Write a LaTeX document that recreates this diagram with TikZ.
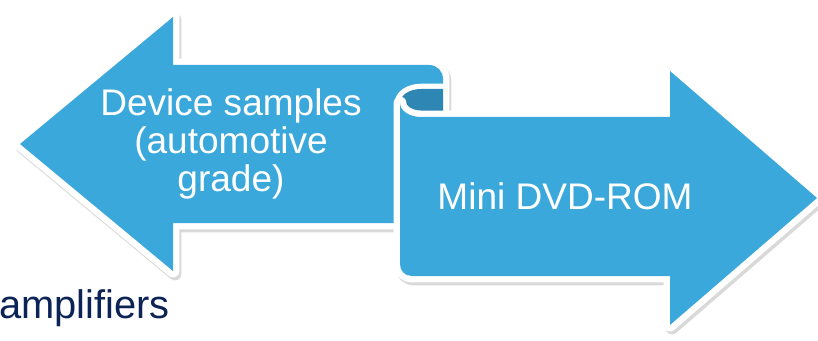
\documentclass[tikz,border=0pt]{standalone}
\usepackage{fontspec}
\setmainfont{Liberation Sans}
\usetikzlibrary{positioning}

\definecolor{ribbon}{RGB}{59,168,219}
\definecolor{ribbondark}{RGB}{46,134,180}
\definecolor{navy}{RGB}{12,35,86}

\begin{document}
\begin{tikzpicture}[x=0.03cm, y=-0.03cm,
  banner/.style={fill=#1,
    preaction={draw=black, opacity=0.15, line width=11, line join=round,
      transform canvas={shift={(2,3)}}},
    preaction={draw=white, line width=11, line join=round}},
  inner/.style={fill=#1, preaction={draw=white, line width=9, line join=round}},
  caption/.style={text=white, align=center, inner sep=0pt,
    font=\fontsize{31.6}{32.4}\selectfont}]

\useasboundingbox[fill=white] (0,0) rectangle (818,341);

% left arrow, its end rolled up at the top right
\path[banner=ribbon] (20,144) -- (173,17) -- (173,65) -- (429,65)
  .. controls (437,65) and (443,71) .. (443,79) -- (443,223)
  -- (173,223) -- (173,271) -- cycle;

% inside of the roll
\path[inner=ribbondark] (443,89) -- (421,89)
  .. controls (409.4,89) and (400,95.3) .. (400,103)
  .. controls (400,110.7) and (409.4,117) .. (421,117) -- (443,117) -- cycle;

% right arrow
\path[banner=ribbon] (421,117) .. controls (409.4,117) and (400,110.7) .. (400,103)
  -- (400,264) .. controls (400,271) and (405,276) .. (412,276)
  -- (670,276) -- (670,325) -- (817,198) -- (670,71) -- (670,117) -- cycle;

\node[caption] (samples) at (231,144) {Device samples\\(automotive\\grade)};
\node[caption] (dvd) at (565,196) {Mini DVD-ROM};
\node[text=navy, anchor=base east, inner sep=0pt,
  font=\fontsize{34}{40}\selectfont] (amp) at (170,318) {amplifiers};
\end{tikzpicture}
\end{document}
